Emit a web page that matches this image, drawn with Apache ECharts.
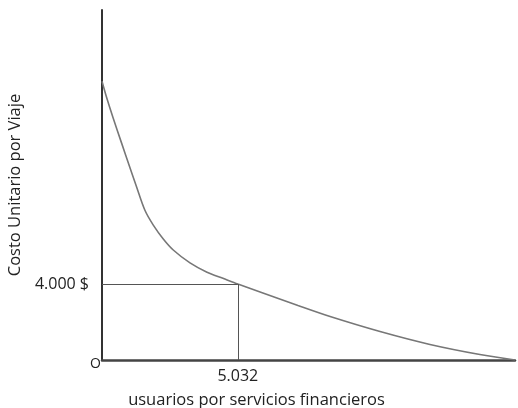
<!DOCTYPE html>
<html>
<head>
<meta charset="utf-8">
<script src="https://cdn.jsdelivr.net/npm/echarts@6/dist/echarts.min.js"></script>
<style>
html,body{margin:0;padding:0;background:#fff;}
#c{width:518px;height:408px;}
</style>
</head>
<body>
<div id="c"></div>
<script>
// Curve: usuarios (thousands) vs costo unitario ($)
var usuarios = [0, 0.16, 0.41, 0.72, 1.03, 1.26, 1.59, 1.90, 2.27, 2.64, 3.26, 3.89, 4.48, 5.032, 5.96, 7.26, 8.45, 10.30, 12.15, 14.0, 15.3];
var costo = [14670, 13870, 12750, 11440, 10150, 9200, 7880, 7100, 6370, 5790, 5110, 4620, 4300, 4000, 3530, 2870, 2290, 1500, 820, 290, 0];
// Reference point
var puntoX = 5.032;
var puntoY = 4000;
var xTickValues = [5.032];
var xTickLabels = ['5.032'];
var yTickValues = [4000];
var yTickLabels = ['4.000 $'];
var xMax = 15.3;
var yMax = 18420;

var chart = echarts.init(document.getElementById('c'));
var font = 'Open Sans';
chart.setOption({
  animation: false,
  backgroundColor: '#fff',
  grid: {left: 102, right: 3, top: 10, bottom: 48, outerBoundsMode: 'none', containLabel: false},
  xAxis: {
    type: 'value', min: 0, max: xMax,
    name: 'usuarios por servicios financieros',
    nameLocation: 'middle', nameGap: 32,
    nameTextStyle: {fontFamily: font, fontSize: 16.5, color: '#222', padding: [0, 104, 0, 0]},
    axisLine: {show: true, lineStyle: {color: '#444', width: 2.5}},
    axisTick: {show: false},
    splitLine: {show: false},
    axisLabel: {
      customValues: xTickValues,
      margin: 8,
      fontFamily: font, fontSize: 16, color: '#222',
      formatter: function (v) { var i = xTickValues.indexOf(v); return i >= 0 ? xTickLabels[i] : ''; }
    }
  },
  yAxis: {
    type: 'value', min: 0, max: yMax,
    name: 'Costo Unitario por Viaje',
    nameLocation: 'middle', nameGap: 76, nameRotate: 90,
    nameTextStyle: {fontFamily: font, fontSize: 16.5, color: '#222'},
    axisLine: {show: true, lineStyle: {color: '#333', width: 2}},
    axisTick: {show: false},
    splitLine: {show: false},
    axisLabel: {
      customValues: yTickValues,
      margin: 13,
      fontFamily: font, fontSize: 16, color: '#222',
      formatter: function (v) { var i = yTickValues.indexOf(v); return i >= 0 ? yTickLabels[i] : ''; }
    }
  },
  graphic: [{
    type: 'text', left: 90, top: 357,
    style: {text: 'O', fontFamily: font, fontSize: 14, fill: '#222'}
  }],
  series: [{
    type: 'line',
    data: usuarios.map(function (x, i) { return [x, costo[i]]; }),
    smooth: 0.3,
    showSymbol: false,
    lineStyle: {color: '#777', width: 1.6},
    markLine: {
      silent: true, symbol: 'none', label: {show: false},
      lineStyle: {color: '#555', width: 1, type: 'solid'},
      data: [
        [{coord: [0, puntoY]}, {coord: [puntoX, puntoY]}],
        [{coord: [puntoX, puntoY]}, {coord: [puntoX, 0]}]
      ]
    }
  }]
});
</script>
</body>
</html>
